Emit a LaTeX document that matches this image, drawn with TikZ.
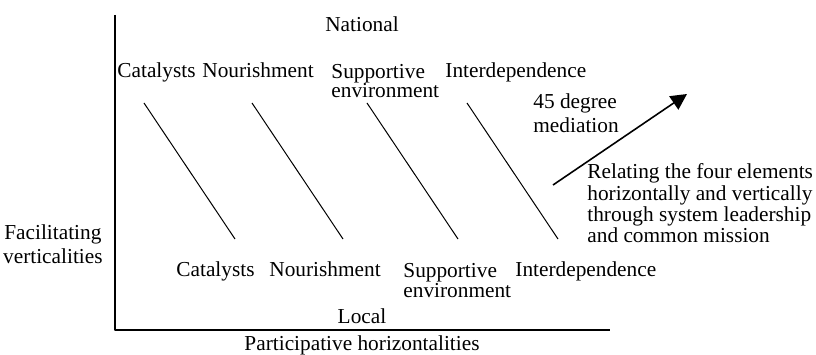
\documentclass[tikz,border=0pt]{standalone}
\usepackage{fontspec}
\setmainfont{Liberation Serif}
\usetikzlibrary{arrows.meta}
\tikzset{
  lbl/.style={inner sep=0pt,font=\fontsize{10.7}{10}\selectfont,align=left},
  wide/.style={lbl,font=\fontsize{10.7}{12.2}\selectfont},
  tight/.style={lbl,font=\fontsize{10.7}{9.6}\selectfont},
  axis/.style={line width=0.75pt},
  spoke/.style={line width=0.5pt},
}
\begin{document}
\begin{tikzpicture}[>={Triangle[length=8bp,width=8bp]},line join=bevel,]
\useasboundingbox (0bp,0bp) rectangle (408bp,177.5bp);
%% axes
\coordinate (ax_top) at (57.5bp,170bp);
\coordinate (ax_end) at (305bp,12.5bp);
\draw [axis] (ax_top) |- (ax_end);
%% labels, national level
\node (nat) at (181bp,161.5bp) [lbl,anchor=base] {National};
\node (top_0) at (58.5bp,138.5bp) [lbl,anchor=base west] {Catalysts};
\node (top_1) at (101bp,138.5bp) [lbl,anchor=base west] {Nourishment};
\node (top_2) at (165.5bp,128.5bp) [lbl,anchor=base west] {Supportive\\environment};
\node (top_3) at (222.5bp,138.5bp) [lbl,anchor=base west] {Interdependence};
%% labels, local level
\node (bot_0) at (88bp,39.5bp) [lbl,anchor=base west] {Catalysts};
\node (bot_1) at (134.5bp,39.5bp) [lbl,anchor=base west] {Nourishment};
\node (bot_2) at (201.5bp,29bp) [lbl,anchor=base west] {Supportive\\environment};
\node (bot_3) at (257.5bp,39.5bp) [lbl,anchor=base west] {Interdependence};
\node (loc) at (181bp,16bp) [lbl,anchor=base] {Local};
%% axis titles
\node (xlab) at (181bp,2.5bp) [lbl,anchor=base] {Participative horizontalities};
\node (ylab) at (51.5bp,45.5bp) [wide,anchor=base east,align=center] {Facilitating\\verticalities};
%% mediation
\node (deg) at (266.5bp,111bp) [wide,anchor=base west] {45 degree\\mediation};
\node (rel) at (293.5bp,56bp) [tight,anchor=base west] {Relating the four elements\\horizontally and vertically\\through system leadership\\and common mission};
%% spokes
\coordinate (sp_0a) at (72bp,126bp);    \coordinate (sp_0b) at (117.5bp,58bp);
\coordinate (sp_1a) at (126bp,126bp);   \coordinate (sp_1b) at (171.5bp,58bp);
\coordinate (sp_2a) at (183.5bp,126bp); \coordinate (sp_2b) at (229bp,58bp);
\coordinate (sp_3a) at (233.5bp,126bp); \coordinate (sp_3b) at (279bp,58bp);
\foreach \i in {0,1,2,3}
  \draw [spoke] (sp_\i a) -- (sp_\i b);
\coordinate (arr_a) at (276.5bp,85bp);
\coordinate (arr_b) at (343.5bp,130.5bp);
\draw [line width=0.8pt,->] (arr_a) -- (arr_b);
%
\end{tikzpicture}
\end{document}
